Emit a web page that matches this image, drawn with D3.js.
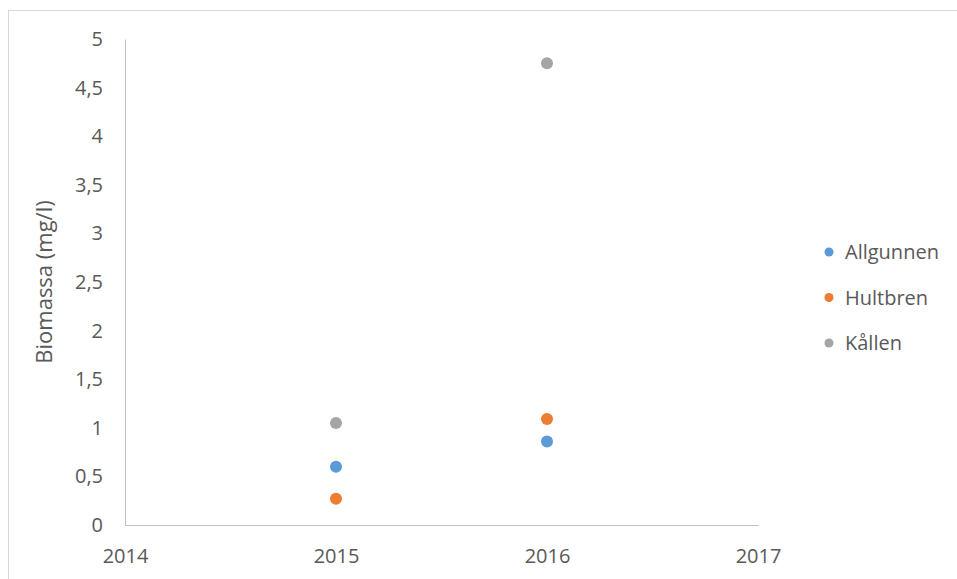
<!DOCTYPE html>
<html><head><meta charset="utf-8">
<script src="https://cdn.jsdelivr.net/npm/d3@7"></script>
<style>body{margin:0;background:#fff;} text{font-family:"Open Sans","Noto Sans",sans-serif;}</style>
</head><body>
<svg id="c" width="957" height="579"></svg>
<script>
const years = [2015, 2016];
const seriesNames = ["Allgunnen", "Hultbren", "Kållen"];
const allgunnen = [0.60, 0.86];
const hultbren = [0.27, 1.09];
const kallen = [1.05, 4.75];
const colors = ["#5B9BD5", "#ED7D31", "#A5A5A5"];
const xTicks = [2014, 2015, 2016, 2017];
const yTicks = [0, 0.5, 1, 1.5, 2, 2.5, 3, 3.5, 4, 4.5, 5];
const yTitle = "Biomassa (mg/l)";

const svg = d3.select("#c");
// outer chart frame
svg.append("rect").attr("x", 8.5).attr("y", 10.5).attr("width", 960).attr("height", 580)
  .attr("fill", "none").attr("stroke", "#d9d9d9");

const x = d3.scaleLinear().domain([2014, 2017]).range([125, 758]);
const y = d3.scaleLinear().domain([0, 5]).range([525, 39]);
const fmt = v => String(v).replace(".", ",");

const gx = svg.append("g").attr("transform", "translate(0,525)")
  .call(d3.axisBottom(x).tickValues(xTicks).tickFormat(d3.format("d")).tickSize(0).tickPadding(24));
gx.select(".domain").attr("stroke", "#bfbfbf");
gx.selectAll("text").attr("fill", "#595959").style("font-size", "20px");

const gy = svg.append("g").attr("transform", "translate(125,0)")
  .call(d3.axisLeft(y).tickValues(yTicks).tickFormat(fmt).tickSize(0).tickPadding(22));
gy.select(".domain").attr("stroke", "#bfbfbf");
gy.selectAll("text").attr("fill", "#595959").style("font-size", "20px");

svg.append("text").attr("transform", "translate(52,282) rotate(-90)")
  .attr("text-anchor", "middle").attr("fill", "#595959").style("font-size", "22px").text(yTitle);

const data = [allgunnen, hultbren, kallen];
data.forEach((vals, i) => {
  svg.append("g").selectAll("circle").data(vals).join("circle")
    .attr("cx", (d, j) => x(years[j])).attr("cy", d => y(d)).attr("r", 6)
    .attr("fill", colors[i]);
});

const leg = svg.append("g");
seriesNames.forEach((n, i) => {
  const ly = 252 + i * 45.5;
  leg.append("circle").attr("cx", 829).attr("cy", ly).attr("r", 4.5).attr("fill", colors[i]);
  leg.append("text").attr("x", 845).attr("y", ly).attr("dy", "0.35em")
    .attr("fill", "#595959").style("font-size", "20px").text(n);
});
</script>
</body></html>
